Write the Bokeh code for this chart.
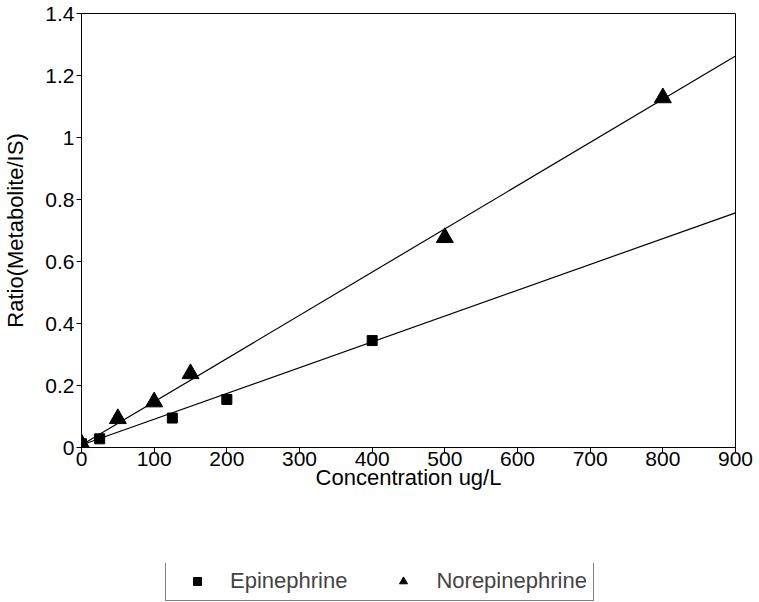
from bokeh.plotting import figure
from bokeh.models import Range1d, FixedTicker, Legend, LegendItem
from bokeh.layouts import column
from bokeh.embed import file_html
from bokeh.resources import INLINE

# data
epi_x = [0, 25, 125, 200, 400]
epi_y = [0.012, 0.028, 0.095, 0.155, 0.345]
nor_x = [0, 50, 100, 150, 500, 800]
nor_y = [0.012, 0.093, 0.147, 0.238, 0.677, 1.128]
fit_x = [0, 900]
epi_fit = [0.008, 0.757]
nor_fit = [0.008, 1.263]
x_ticks = [0, 100, 200, 300, 400, 500, 600, 700, 800, 900]
y_ticks = [0, 0.2, 0.4, 0.6, 0.8, 1.0, 1.2, 1.4]
y_labels = ["0", "0.2", "0.4", "0.6", "0.8", "1", "1.2", "1.4"]
series_names = ["Epinephrine", "Norepinephrine"]

FONT = "Liberation Sans"

p = figure(width=759, height=563, output_backend="svg", toolbar_location=None,
           x_range=Range1d(0, 900), y_range=Range1d(0, 1.4),
           min_border_left=81, min_border_right=24, min_border_top=13, min_border_bottom=116)
p.grid.visible = False
p.outline_line_color = "black"
p.outline_line_width = 1
p.background_fill_color = "white"

for ax in (p.xaxis[0], p.yaxis[0]):
    ax.axis_line_color = "black"
    ax.major_tick_line_color = "black"
    ax.major_tick_out = 5
    ax.major_tick_in = 0
    ax.minor_tick_line_color = None
    ax.major_label_text_font = FONT
    ax.major_label_text_font_size = "21px"
    ax.major_label_text_color = "black"
    ax.axis_label_text_font = FONT
    ax.axis_label_text_font_size = "22px"
    ax.axis_label_text_font_style = "normal"
    ax.axis_label_text_color = "black"

p.xaxis.ticker = FixedTicker(ticks=x_ticks)
p.yaxis.ticker = FixedTicker(ticks=y_ticks)
p.yaxis.major_label_overrides = {t: l for t, l in zip(y_ticks, y_labels)}
p.xaxis.axis_label = "Concentration ug/L"
p.yaxis.axis_label = "Ratio(Metabolite/IS)"
p.xaxis.major_label_standoff = -1
p.xaxis.axis_label_standoff = -4
p.yaxis.major_label_standoff = 2
p.yaxis.axis_label_standoff = 14

p.line(fit_x, epi_fit, line_color="black", line_width=1.2)
p.line(fit_x, nor_fit, line_color="black", line_width=1.2)
p.scatter(epi_x, epi_y, marker="square", size=10, fill_color="black", line_color="black")
p.scatter(nor_x, nor_y, marker="triangle", size=17, fill_color="black", line_color="black")

# legend strip
q = figure(width=759, height=39, output_backend="svg", toolbar_location=None,
           x_range=Range1d(0, 900), y_range=Range1d(10, 11),
           min_border_left=0, min_border_right=0, min_border_top=0, min_border_bottom=0)
q.axis.visible = False
q.grid.visible = False
q.outline_line_color = None
r_epi = q.scatter(epi_x, epi_y, marker="square", size=10, fill_color="black", line_color="black")
r_nor = q.scatter(nor_x, nor_y, marker="triangle", size=14, fill_color="black", line_color="black")

legend = Legend(items=[LegendItem(label=series_names[0], renderers=[r_epi]),
                       LegendItem(label=series_names[1], renderers=[r_nor])],
                orientation="horizontal", location=(84, 1),
                label_text_font=FONT, label_text_font_size="22px",
                border_line_color="black", border_line_width=1,
                padding=6, spacing=31, label_standoff=8, glyph_width=50, glyph_height=20,
                margin=0, background_fill_alpha=1)
q.add_layout(legend, "center")

layout = column(p, q, spacing=0)
open("out.html", "w").write(file_html(layout, INLINE))
